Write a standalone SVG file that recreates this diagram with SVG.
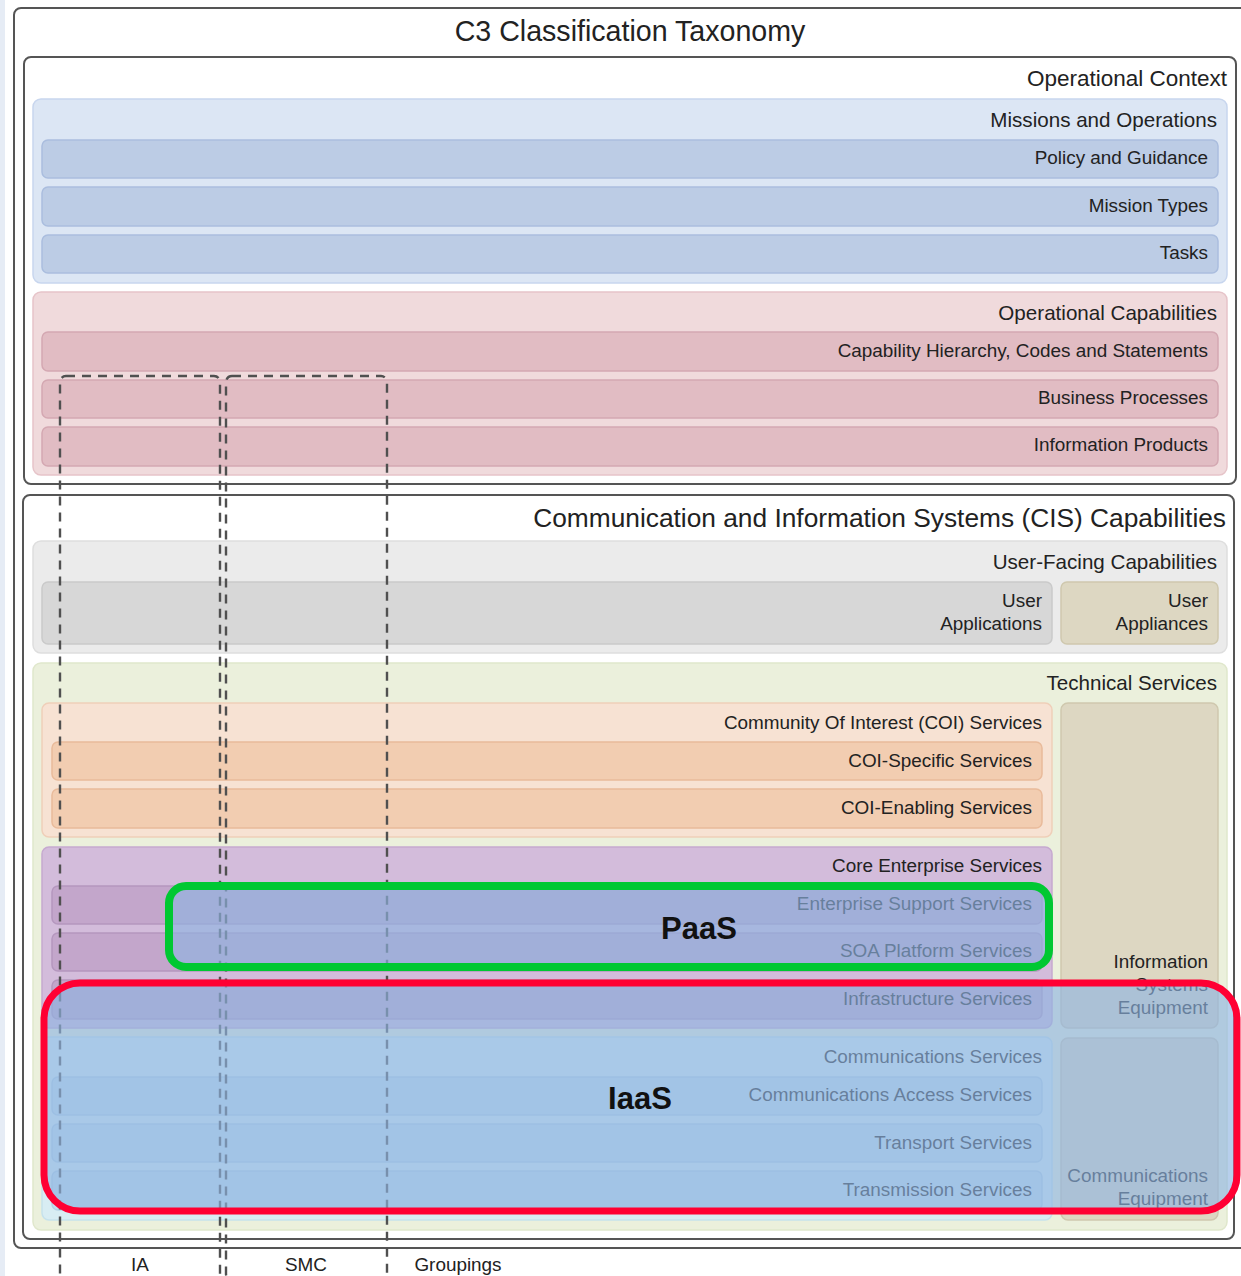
<svg xmlns="http://www.w3.org/2000/svg" width="1241" height="1276" viewBox="0 0 1241 1276">
  <style>
    text { font-family: "Liberation Sans", Arial, sans-serif; fill: #222; }
    .r { text-anchor: end; }
    .c { text-anchor: middle; }
    .t28 { font-size: 28.6px; }
    .t26 { font-size: 26.3px; }
    .t22 { font-size: 22.5px; }
    .t20 { font-size: 20.6px; }
    .t18 { font-size: 18.9px; }
    .big { font-size: 31px; font-weight: bold; fill: #111; }
    .frame { fill: #fff; stroke: #555; stroke-width: 2; }
    .mis { fill: #dce6f4; stroke: #c8d6ee; stroke-width: 1.5; }
    .misRow { fill: #bccce5; stroke: #aabdde; stroke-width: 1.5; }
    .cap { fill: #f0dadc; stroke: #e6c4c9; stroke-width: 1.5; }
    .capRow { fill: #e1bcc3; stroke: #d4a8b2; stroke-width: 1.5; }
    .uf { fill: #ebebeb; stroke: #dedede; stroke-width: 1.5; }
    .ufApp { fill: #d7d7d7; stroke: #cacaca; stroke-width: 1.5; }
    .equip { fill: #ddd7c2; stroke: #cfc8ae; stroke-width: 1.5; }
    .tech { fill: #ebf0dc; stroke: #e0e7cc; stroke-width: 1.5; }
    .coi { fill: #f7e2d3; stroke: #efcfb9; stroke-width: 1.5; }
    .coiRow { fill: #f2cdb1; stroke: #e9bb9b; stroke-width: 1.5; }
    .core { fill: #d3bcdb; stroke: #c6a9d0; stroke-width: 1.5; }
    .coreRow { fill: #c3a6cb; stroke: #b597be; stroke-width: 1.5; }
    .comm { fill: #d8edf3; stroke: #c6e2ec; stroke-width: 1.5; }
    .commRow { fill: #c6dfee; stroke: #b5d3e6; stroke-width: 1.5; }
    .group { fill: none; stroke: #505050; stroke-width: 2.4; stroke-dasharray: 9 7; }
    .veil { fill: #8eb4e1; fill-opacity: 0.64; }
  </style>

  <!-- page edge -->
  <rect x="0" y="0" width="5" height="1276" fill="#e6ecf5"/>

  <!-- outer frame -->
  <g id="taxonomy">
    <rect class="frame" x="14" y="8" width="1240" height="1240" rx="7" stroke="#666"/>
    <text class="t28 c" x="630" y="41">C3 Classification Taxonomy</text>
  </g>

  <!-- Operational Context -->
  <g id="operational-context">
    <rect class="frame" x="24" y="57" width="1212" height="427" rx="7"/>
    <text class="t22 r" x="1227" y="86">Operational Context</text>
  </g>

  <g id="missions-and-operations">
    <rect class="mis" x="33" y="99" width="1194" height="184" rx="8"/>
    <text class="t20 r" x="1217" y="127">Missions and Operations</text>
  </g>
  <g id="policy-and-guidance">
    <rect class="misRow" x="42" y="140" width="1176" height="38" rx="6"/>
    <text class="t18 r" x="1208" y="164">Policy and Guidance</text>
  </g>
  <g id="mission-types">
    <rect class="misRow" x="42" y="187" width="1176" height="39" rx="6"/>
    <text class="t18 r" x="1208" y="212">Mission Types</text>
  </g>
  <g id="tasks">
    <rect class="misRow" x="42" y="235" width="1176" height="38" rx="6"/>
    <text class="t18 r" x="1208" y="259">Tasks</text>
  </g>

  <g id="operational-capabilities">
    <rect class="cap" x="33" y="292" width="1194" height="183" rx="8"/>
    <text class="t20 r" x="1217" y="320">Operational Capabilities</text>
  </g>
  <g id="capability-hierarchy">
    <rect class="capRow" x="42" y="332" width="1176" height="39" rx="6"/>
    <text class="t18 r" x="1208" y="357">Capability Hierarchy, Codes and Statements</text>
  </g>
  <g id="business-processes">
    <rect class="capRow" x="42" y="380" width="1176" height="38" rx="6"/>
    <text class="t18 r" x="1208" y="404">Business Processes</text>
  </g>
  <g id="information-products">
    <rect class="capRow" x="42" y="427" width="1176" height="39" rx="6"/>
    <text class="t18 r" x="1208" y="451">Information Products</text>
  </g>

  <!-- CIS Capabilities -->
  <g id="cis-capabilities">
    <rect class="frame" x="23" y="495" width="1211" height="744" rx="7"/>
    <text class="t26 r" x="1226" y="527">Communication and Information Systems (CIS) Capabilities</text>
  </g>

  <g id="user-facing-capabilities">
    <rect class="uf" x="33" y="541" width="1194" height="112" rx="8"/>
    <text class="t20 r" x="1217" y="569">User-Facing Capabilities</text>
  </g>
  <g id="user-applications">
    <rect class="ufApp" x="42" y="582" width="1010" height="62" rx="6"/>
    <text class="t18 r" x="1042" y="607">User</text>
    <text class="t18 r" x="1042" y="630">Applications</text>
  </g>
  <g id="user-appliances">
    <rect class="equip" x="1061" y="582" width="157" height="62" rx="6"/>
    <text class="t18 r" x="1208" y="607">User</text>
    <text class="t18 r" x="1208" y="630">Appliances</text>
  </g>

  <g id="technical-services">
    <rect class="tech" x="33" y="663" width="1194" height="567" rx="8"/>
    <text class="t20 r" x="1217" y="690">Technical Services</text>
  </g>

  <g id="coi-services">
    <rect class="coi" x="42" y="703" width="1010" height="134" rx="7"/>
    <text class="t18 r" x="1042" y="729">Community Of Interest (COI) Services</text>
  </g>
  <g id="coi-specific">
    <rect class="coiRow" x="52" y="742" width="990" height="38" rx="6"/>
    <text class="t18 r" x="1032" y="767">COI-Specific Services</text>
  </g>
  <g id="coi-enabling">
    <rect class="coiRow" x="52" y="789" width="990" height="39" rx="6"/>
    <text class="t18 r" x="1032" y="814">COI-Enabling Services</text>
  </g>

  <g id="core-enterprise-services">
    <rect class="core" x="42" y="847" width="1010" height="181" rx="7"/>
    <text class="t18 r" x="1042" y="872">Core Enterprise Services</text>
  </g>
  <g id="enterprise-support">
    <rect class="coreRow" x="52" y="886" width="990" height="38" rx="6"/>
    <text class="t18 r" x="1032" y="910">Enterprise Support Services</text>
  </g>
  <g id="soa-platform">
    <rect class="coreRow" x="52" y="933" width="990" height="38" rx="6"/>
    <text class="t18 r" x="1032" y="957">SOA Platform Services</text>
  </g>
  <g id="infrastructure">
    <rect class="coreRow" x="52" y="980" width="990" height="39" rx="6"/>
    <text class="t18 r" x="1032" y="1005">Infrastructure Services</text>
  </g>

  <g id="information-systems-equipment">
    <rect class="equip" x="1061" y="703" width="157" height="325" rx="7"/>
    <text class="t18 r" x="1208" y="968">Information</text>
    <text class="t18 r" x="1208" y="991">Systems</text>
    <text class="t18 r" x="1208" y="1014">Equipment</text>
  </g>

  <g id="communications-services">
    <rect class="comm" x="42" y="1037" width="1010" height="183" rx="7"/>
    <text class="t18 r" x="1042" y="1063">Communications Services</text>
  </g>
  <g id="communications-access">
    <rect class="commRow" x="52" y="1077" width="990" height="38" rx="6"/>
    <text class="t18 r" x="1032" y="1101">Communications Access Services</text>
  </g>
  <g id="transport">
    <rect class="commRow" x="52" y="1124" width="990" height="38" rx="6"/>
    <text class="t18 r" x="1032" y="1149">Transport Services</text>
  </g>
  <g id="transmission">
    <rect class="commRow" x="52" y="1171" width="990" height="39" rx="6"/>
    <text class="t18 r" x="1032" y="1196">Transmission Services</text>
  </g>

  <g id="communications-equipment">
    <rect class="equip" x="1061" y="1038" width="157" height="182" rx="7"/>
    <text class="t18 r" x="1208" y="1182">Communications</text>
    <text class="t18 r" x="1208" y="1205">Equipment</text>
  </g>

  <!-- cross-cutting groupings -->
  <g id="groupings">
    <rect class="group" x="60" y="376" width="160" height="904" rx="6"/>
    <rect class="group" x="226" y="376" width="161" height="904" rx="6"/>
    <text class="t18 c" x="140" y="1271">IA</text>
    <text class="t18 c" x="306" y="1271">SMC</text>
    <text class="t18 c" x="458" y="1271">Groupings</text>
  </g>

  <!-- service model overlays -->
  <g id="paas">
    <rect class="veil" x="169" y="886" width="880" height="81" rx="17" stroke="#00c832" stroke-width="8"/>
    <text class="big c" x="699" y="939">PaaS</text>
  </g>
  <g id="iaas">
    <rect class="veil" x="44" y="983" width="1193" height="228" rx="36" stroke="#ff0033" stroke-width="7"/>
    <text class="big c" x="640" y="1109">IaaS</text>
  </g>
</svg>
